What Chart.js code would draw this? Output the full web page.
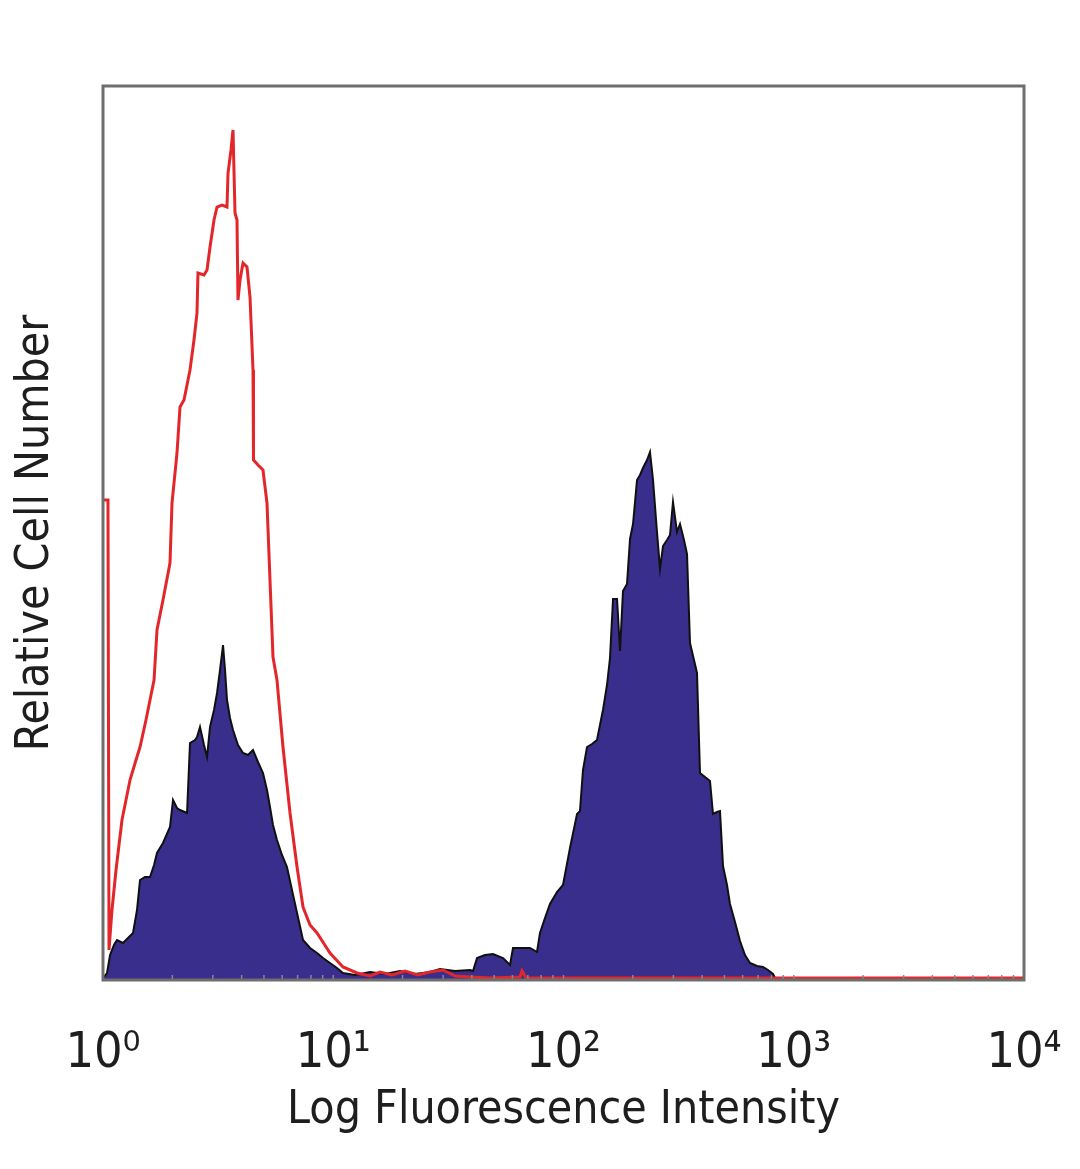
<!DOCTYPE html>
<html>
<head>
<meta charset="utf-8">
<script src="https://cdn.jsdelivr.net/npm/chart.js@4.4.1/dist/chart.umd.min.js"></script>
<style>
  html, body { margin: 0; padding: 0; background: #fff; }
  canvas { display: block; }
</style>
</head>
<body>
<canvas id="c" width="1080" height="1169"></canvas>
<script>
// ---- data (fluorescence intensity, relative cell count) ----
const xTickValues = [1, 10, 100, 1000, 10000];
const xTickLabels = ['10\u2070', '10\u00B9', '10\u00B2', '10\u00B3', '10\u2074'];
const xTitle = 'Log Fluorescence Intensity';
const yTitle = 'Relative Cell Number';

// isotype control (red outline)
const isoX = [1.010, 1.051, 1.062, 1.094, 1.139, 1.209, 1.310, 1.391, 1.448, 1.537,
  1.600, 1.666, 1.716, 1.822, 1.954, 1.994, 2.096, 2.160, 2.248, 2.387,
  2.484, 2.560, 2.585, 2.746, 2.830, 2.916, 3.035, 3.128, 3.288, 3.456,
  3.491, 3.597, 3.670, 3.744, 3.819, 3.857, 3.936, 4.056, 4.221, 4.350,
  4.482, 4.504, 4.711, 4.953, 5.155, 5.312, 5.474, 5.697, 6.049, 6.490,
  6.962, 7.391, 7.929, 8.503, 9.680, 11.02, 12.68, 14.44, 15.96, 17.99,
  20.49, 23.34, 26.31, 29.96, 33.80, 39.26, 47.96, 64.72, 66.03, 68.72,
  96.56, 10000];
const isoY = [480, 480, 30, 70, 110, 160, 200, 220, 233, 260,
  280, 300, 350, 380, 417, 477, 527, 573, 580, 610,
  640, 667, 707, 705, 710, 733, 760, 773, 775, 773,
  807, 830, 850, 767, 760, 680, 700, 717, 713, 683,
  610, 520, 515, 510, 477, 400, 323, 300, 233, 167,
  113, 73, 55, 47, 27, 13, 7, 4, 8, 5,
  9, 5, 8, 10, 4, 3, 2, 3, 9, 2,
  2, 2];

// stained sample (filled navy)
const stainX = [1.010, 1.041, 1.073, 1.116, 1.150, 1.221, 1.284, 1.350, 1.405, 1.448,
  1.522, 1.600, 1.666, 1.716, 1.822, 1.954, 2.014, 2.096, 2.160, 2.317,
  2.387, 2.509, 2.560, 2.638, 2.746, 2.830, 2.916, 3.035, 3.128, 3.223,
  3.321, 3.388, 3.456, 3.561, 3.670, 3.857, 4.056, 4.264, 4.482, 4.711,
  4.953, 5.155, 5.312, 5.474, 5.697, 5.989, 6.296, 6.618, 6.962, 7.391,
  7.929, 8.503, 9.027, 9.680, 10.38, 11.02, 12.43, 14.44, 16.78, 19.49,
  22.65, 26.31, 29.08, 33.80, 39.26, 40.46, 42.11, 45.61, 49.41, 54.61,
  58.57, 60.35, 66.03, 71.53, 76.71, 79.04, 83.09, 87.35, 93.70, 99.50,
  106.7, 114.5, 117.9, 121.5, 126.5, 133.0, 139.8, 148.4, 154.5, 159.2,
  164.1, 170.8, 176.0, 181.3, 188.7, 194.5, 200.4, 208.6, 214.9, 221.4,
  230.5, 237.5, 244.8, 254.7, 262.5, 270.5, 281.5, 290.1, 298.9, 311.1,
  320.6, 333.7, 343.9, 354.3, 368.8, 380.0, 391.6, 411.6, 432.7, 446.0,
  464.2, 478.3, 492.9, 513.0, 528.6, 555.7, 584.2, 614.1, 645.6, 692.4,
  735.2, 773.0, 812.6, 837.3, 10000];
const stainY = [3, 7, 25, 35, 40, 37, 42, 47, 70, 100,
  103, 103, 115, 127, 137, 153, 180, 172, 170, 167,
  237, 240, 243, 253, 235, 223, 253, 270, 287, 310,
  335, 310, 280, 262, 250, 235, 227, 225, 230, 218,
  207, 190, 173, 155, 140, 125, 113, 90, 67, 40,
  32, 27, 22, 17, 12, 7, 5, 8, 6, 9,
  6, 8, 11, 9, 10, 9, 22, 25, 26, 22,
  15, 32, 32, 32, 28, 47, 62, 76, 88, 95,
  132, 166, 169, 210, 233, 236, 240, 270, 295, 322,
  381, 381, 329, 389, 396, 441, 456, 500, 505, 512,
  520, 528, 500, 448, 411, 434, 440, 445, 478, 448,
  456, 440, 426, 337, 320, 307, 207, 203, 199, 166,
  168, 169, 114, 95, 76, 58, 39, 25, 17, 14,
  13, 10, 6, 0, 0];

const yMax = 894;

// ---- chart ----
const toPoints = (xs, ys) => xs.map((v, i) => ({ x: v, y: ys[i] }));
const FONT = "'DejaVu Sans Condensed', 'DejaVu Sans', sans-serif";

const framePlugin = {
  id: 'frame',
  afterDatasetsDraw(chart) {
    const { ctx, chartArea: a, scales: { x } } = chart;
    ctx.save();
    // minor tick marks along the bottom edge, pointing inwards
    ctx.strokeStyle = '#8a8a8a';
    ctx.lineWidth = 1.5;
    for (let d = 0; d < xTickValues.length - 1; d++) {
      for (let m = 1; m <= 9; m++) {
        const px = x.getPixelForValue(xTickValues[d] * m);
        ctx.beginPath();
        ctx.moveTo(px, a.bottom);
        ctx.lineTo(px, a.bottom - 5);
        ctx.stroke();
      }
    }
    // plot frame
    ctx.strokeStyle = '#6e6e6e';
    ctx.lineWidth = 3;
    ctx.strokeRect(a.left, a.top, a.right - a.left, a.bottom - a.top);
    ctx.restore();
  }
};

new Chart(document.getElementById('c'), {
  type: 'line',
  data: {
    datasets: [
      {
        label: 'Isotype control',
        data: toPoints(isoX, isoY),
        borderColor: '#e3262a',
        borderWidth: 3,
        fill: false,
        pointRadius: 0,
        tension: 0,
        order: 0
      },
      {
        label: 'Stained',
        data: toPoints(stainX, stainY),
        borderColor: '#101010',
        borderWidth: 2,
        backgroundColor: '#3a2e8c',
        fill: 'origin',
        pointRadius: 0,
        tension: 0,
        order: 1
      }
    ]
  },
  options: {
    responsive: false,
    animation: false,
    devicePixelRatio: 1,
    layout: { padding: { top: 86, right: 56, left: 0, bottom: 0 } },
    plugins: { legend: { display: false }, tooltip: { enabled: false } },
    scales: {
      x: {
        type: 'logarithmic',
        min: 1,
        max: 10000,
        afterBuildTicks: s => { s.ticks = xTickValues.map(v => ({ value: v })); },
        afterFit: s => { s.height = 189; s.paddingLeft = 0; s.paddingRight = 0; },
        grid: { display: false },
        border: { display: false },
        ticks: {
          autoSkip: false,
          maxRotation: 0,
          padding: 36,
          color: '#1e1e1e',
          font: { family: FONT, size: 50 },
          callback: (v, i) => xTickLabels[i]
        },
        title: {
          display: true,
          text: xTitle,
          color: '#1e1e1e',
          font: { family: FONT, size: 46 },
          padding: { top: 0, bottom: 30 }
        }
      },
      y: {
        type: 'linear',
        min: 0,
        max: yMax,
        afterFit: s => { s.width = 103; s.paddingTop = 0; s.paddingBottom = 0; },
        grid: { display: false },
        border: { display: false },
        ticks: { display: false },
        title: {
          display: true,
          text: yTitle,
          color: '#1e1e1e',
          font: { family: FONT, size: 46 },
          padding: { top: 8, bottom: 0 }
        }
      }
    }
  },
  plugins: [framePlugin]
});
</script>
</body>
</html>
